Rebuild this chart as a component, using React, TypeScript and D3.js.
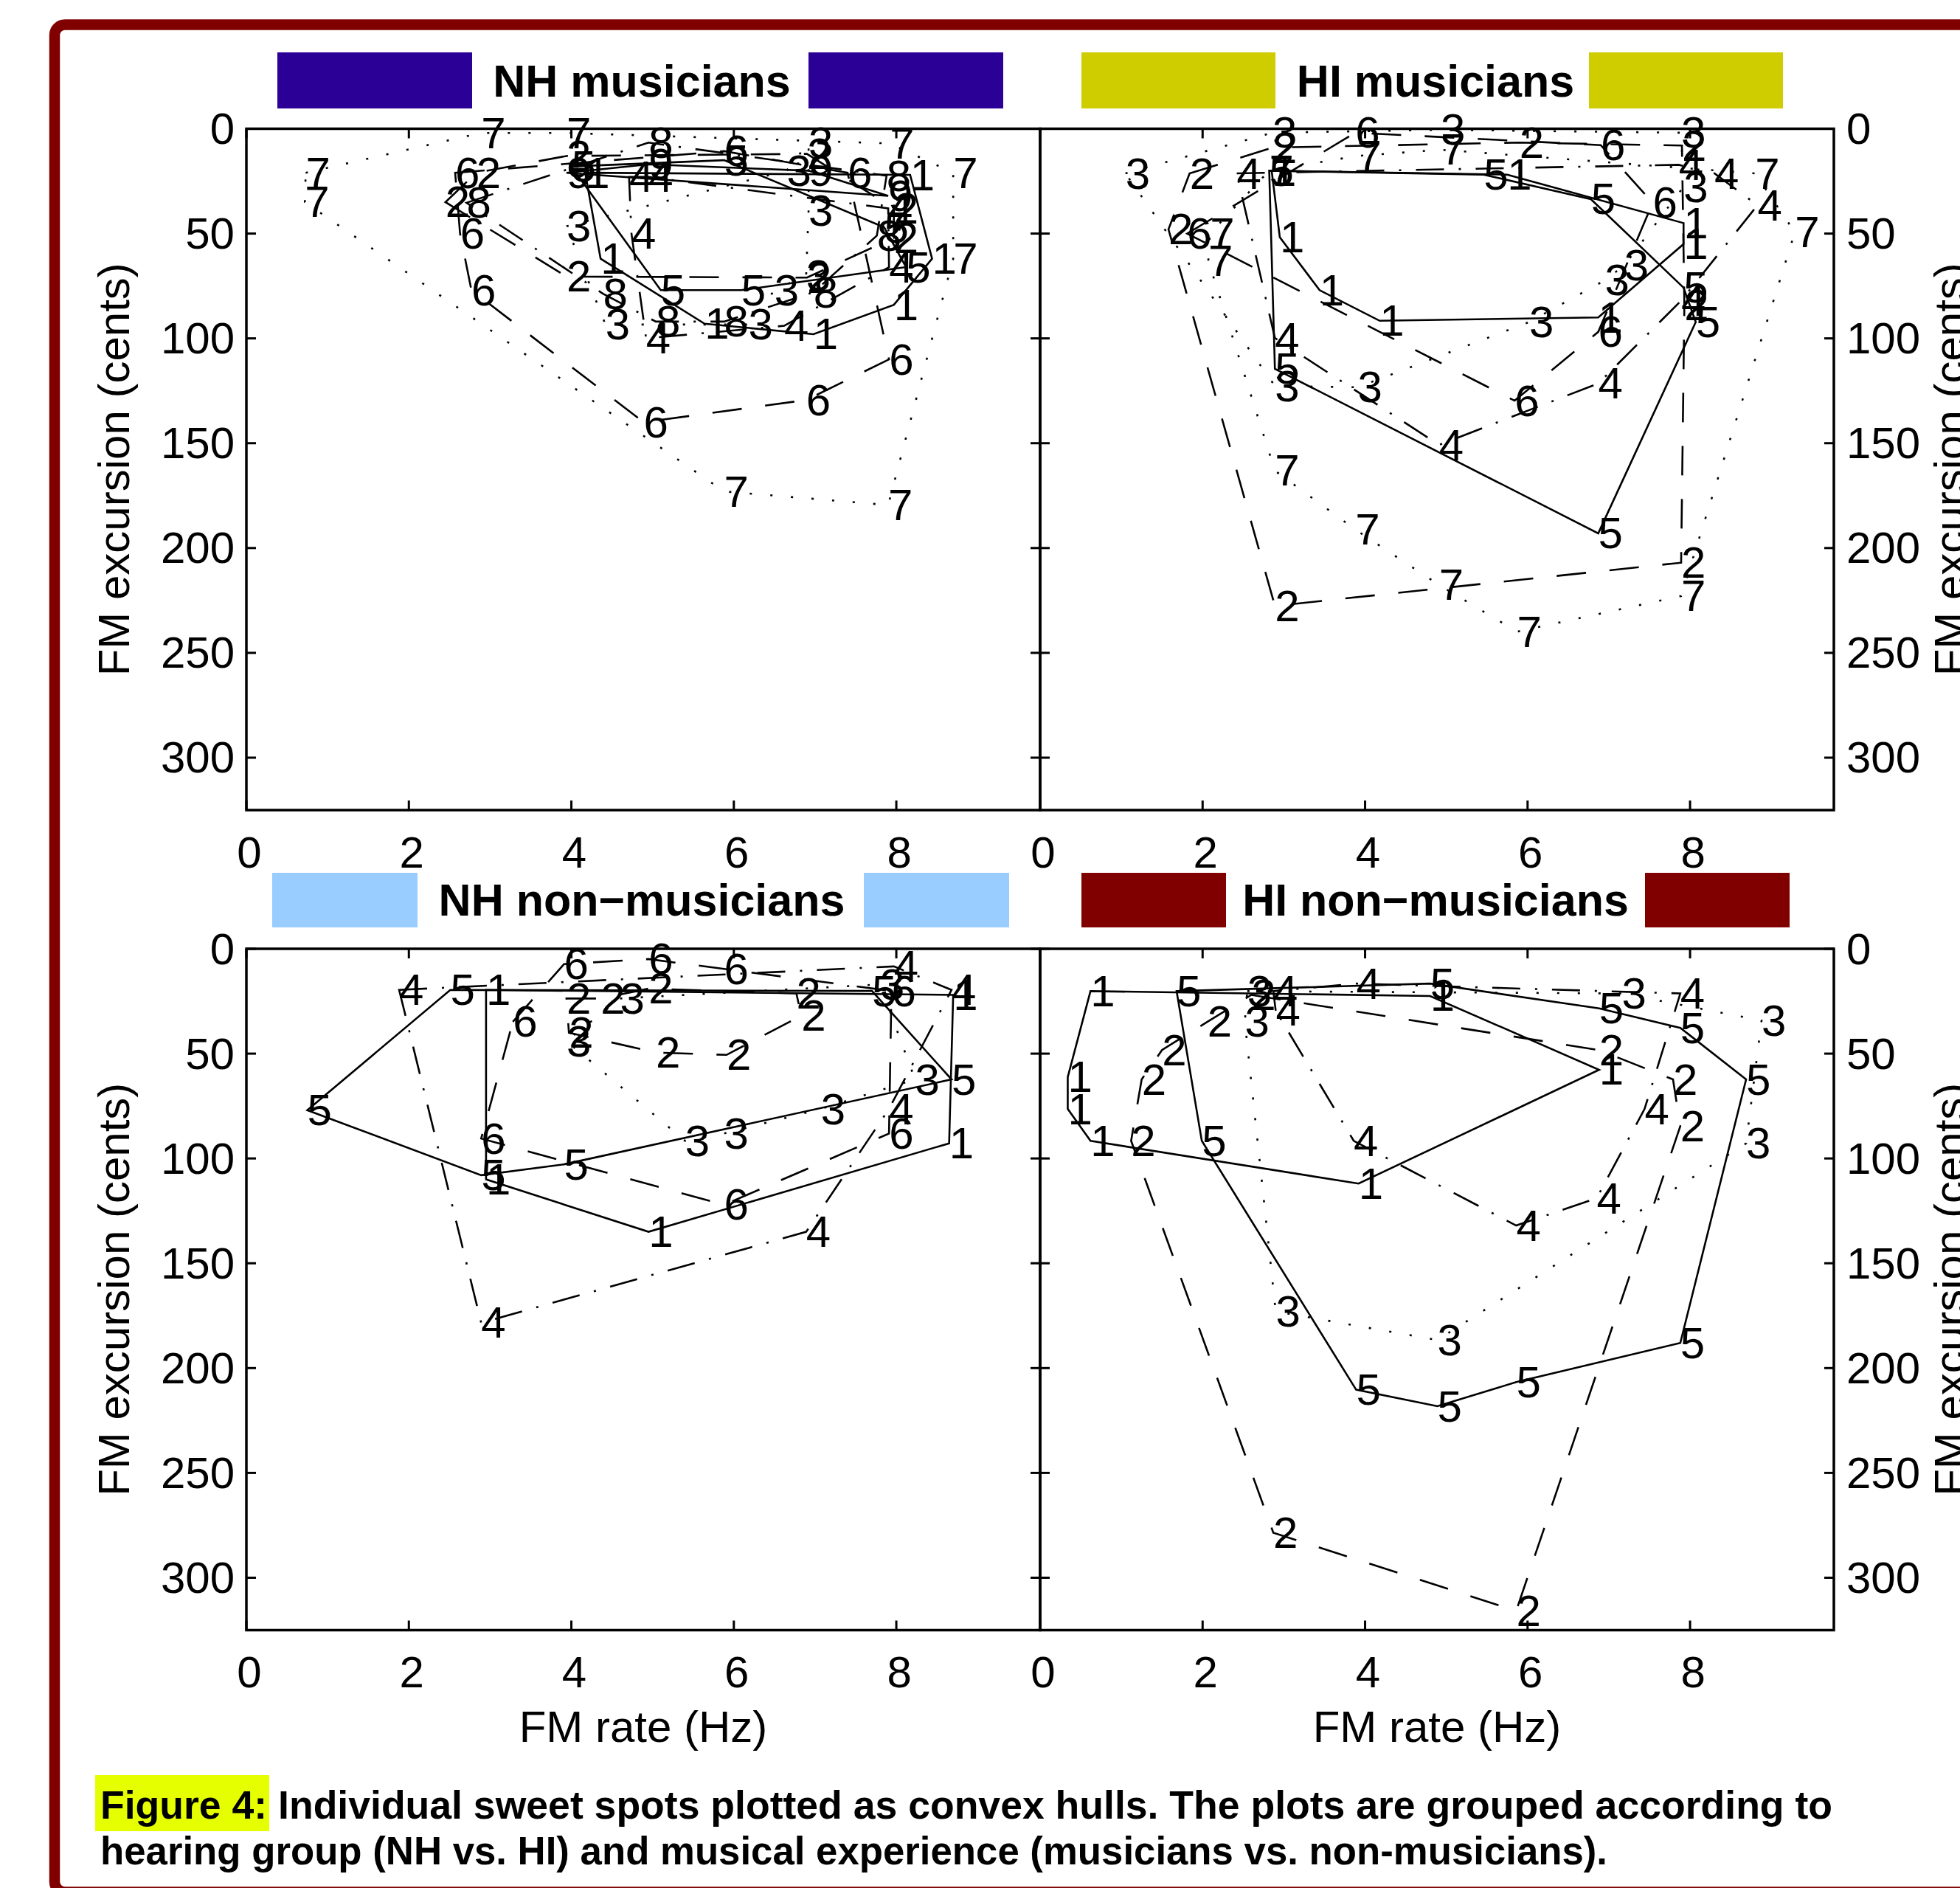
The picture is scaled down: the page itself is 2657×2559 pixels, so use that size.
import React from 'react';
import * as d3 from 'd3';

const W = 2657;
const H = 2559;
const FONT = '"Liberation Sans", Arial, Helvetica, sans-serif';

const rateTicks = [0, 2, 4, 6, 8];
const centTicks = [0, 50, 100, 150, 200, 250, 300];
const rateMax = 9.77;
const centMax = 325;

type Pt = [number, number];
type Hull = [number, Pt[]];

// [subject, [[FM rate Hz, FM excursion cents], ...]] in hull order
const nhMusicians: Hull[] = [
  [1, [[4.17, 21], [8.17, 22], [8.44, 62], [7.97, 84], [6.98, 98], [5.64, 93], [4.36, 62]]],
  [2, [[2.45, 35], [2.83, 21], [3.94, 13], [6.9, 12], [7.97, 38], [7.97, 52], [6.9, 71], [3.94, 70.5]]],
  [3, [[3.94, 46.5], [6.65, 20], [6.92, 6.6], [6.92, 39], [6.89, 70], [6.5, 77], [6.18, 93.4], [4.42, 93.4]]],
  [4, [[4.71, 23], [4.95, 23], [7.9, 38], [7.91, 66], [6.62, 94], [4.92, 100], [4.74, 50]]],
  [5, [[4.0, 18], [5.88, 15], [7.85, 47], [8.12, 66], [6.09, 77], [5.1, 77]]],
  [6, [[2.57, 21], [5.88, 10.7], [7.4, 21], [7.91, 110], [6.89, 129.4], [4.89, 140], [2.77, 77], [2.63, 50]]],
  [7, [[0.73, 21], [2.89, 2], [3.94, 2], [7.92, 7], [8.7, 21], [8.7, 62], [7.9, 179.5], [5.88, 173], [0.72, 35]]],
  [8, [[2.71, 35.3], [4.95, 6.6], [7.88, 22.4], [7.76, 51], [6.98, 78], [5.88, 92], [5.04, 92], [4.39, 78.7]]],
  [9, [[3.94, 21], [4.95, 17], [6.92, 20], [7.9, 32]]],
];

const hiMusicians: Hull[] = [
  [1, [[2.85, 20], [5.75, 21.9], [7.92, 45], [7.92, 55], [6.87, 90], [4.18, 91.6], [3.44, 77], [2.95, 51.7]]],
  [2, [[1.84, 21.3], [2.86, 9], [5.9, 6.6], [7.9, 8], [7.93, 84], [7.89, 207], [2.89, 227.6], [1.58, 48]]],
  [3, [[1.05, 21.3], [2.86, 1.9], [4.93, 0.5], [7.89, 1.9], [7.92, 27.7], [7.19, 65.2], [6.95, 72.3], [6.02, 92.2], [3.91, 123.3], [2.89, 122.7]]],
  [4, [[2.42, 21.3], [7.86, 17.2], [8.3, 21.3], [8.83, 36.5], [7.89, 82], [6.87, 121.5], [4.91, 150.8], [2.89, 99.8]]],
  [5, [[2.82, 20], [5.46, 21.9], [6.78, 33.6], [7.92, 75.8], [8.07, 92.2], [6.87, 193], [2.89, 114.5]]],
  [6, [[1.81, 50], [3.88, 1.9], [6.9, 7.8], [7.54, 35.3], [6.87, 96.9], [5.84, 129.7]]],
  [7, [[2.07, 62.9], [2.09, 50], [2.82, 20], [3.9, 13], [4.93, 10], [8.8, 21.3], [9.29, 49.4], [7.89, 222.9], [5.87, 239.9], [4.91, 217.6], [3.88, 191.2], [2.89, 163.1]]],
];

const nhNonMusicians: Hull[] = [
  [1, [[2.95, 19.6], [8.7, 22], [8.65, 92.8], [4.95, 135], [2.95, 110]]],
  [2, [[3.94, 23.7], [4.36, 23.7], [4.95, 19], [6.77, 21.3], [6.83, 31.9], [5.91, 50.6], [5.04, 49.5], [3.97, 40]]],
  [3, [[4.6, 23.7], [7.8, 17], [8.23, 62.3], [7.07, 76.4], [5.88, 88.1], [5.4, 91.6], [3.94, 44]]],
  [4, [[1.88, 19.6], [7.97, 8.4], [8.68, 19.6], [7.91, 76.4], [6.89, 135], [2.89, 178.4]]],
  [5, [[0.75, 77], [2.51, 19.6], [7.7, 20.1], [8.68, 62.3], [3.91, 102.8], [2.89, 108]]],
  [6, [[3.28, 34.8], [3.91, 7.3], [4.95, 4.9], [5.88, 9.6], [7.94, 20.1], [7.91, 88.1], [5.88, 122.1], [2.89, 90.5]]],
];

const hiNonMusicians: Hull[] = [
  [1, [[0.62, 20.2], [4.8, 22.5], [6.88, 57.7], [3.92, 112], [0.62, 91.6], [0.34, 76.4], [0.34, 61.2]]],
  [2, [[2.6, 22], [6.88, 48.3], [7.79, 62.3], [7.88, 84.6], [5.86, 315.8], [2.87, 278.5], [1.12, 91.6], [1.25, 62.3], [1.5, 48.3], [2.06, 34.8]]],
  [3, [[2.55, 20.2], [7.16, 21.3], [8.88, 34.2], [8.69, 92.8], [4.89, 186.6], [2.9, 173], [2.52, 34.8]]],
  [4, [[2.9, 29.5], [2.87, 20.2], [3.89, 16.6], [7.88, 21.3], [7.44, 76.4], [6.85, 119], [5.86, 132], [3.86, 91.6]]],
  [5, [[1.68, 20.2], [4.8, 16.6], [6.88, 28.4], [7.88, 37.7], [8.69, 62.3], [7.88, 188], [5.86, 206.7], [4.89, 218.2], [3.89, 210.3], [1.99, 91.6]]],
];

const groupNames = ['NH musicians', 'HI musicians', 'NH non\u2212musicians', 'HI non\u2212musicians'];
const groupColors = ['#2B0096', '#CFCC00', '#99CCFF', '#800000'];

// matlab line style cycle '-', '--', ':', '-.'
const lineDash = ['none', '40,32', '3,25', '38,20,3,20'];

const PW = 1076;
const PH = 923.5;

const Panel = ({ hulls, x0, y0, title, color, bars, titleY, rightSide, showXLabel }) => {
  const x = d3.scaleLinear().domain([0, rateMax]).range([x0, x0 + PW]);
  const y = d3.scaleLinear().domain([0, centMax]).range([y0, y0 + PH]);
  const path = d3.line<Pt>().x(d => x(d[0])).y(d => y(d[1])).curve(d3.curveLinearClosed);
  const cx = x0 + PW / 2;
  const cy = y0 + PH / 2;

  return (
    <g>
      {/* group title with colour bars */}
      <rect x={bars[0]} y={bars[3]} width={bars[2]} height={bars[4]} fill={color} />
      <rect x={bars[1]} y={bars[3]} width={bars[2]} height={bars[4]} fill={color} />
      <text x={cx - 2} y={titleY} textAnchor="middle" dominantBaseline="central"
        fontSize={61} fontWeight="bold" fontFamily={FONT}>{title}</text>

      {hulls.map(([id, pts]) => (
        <path key={'h' + id} d={path(pts)} fill="none" stroke="#000" strokeWidth={2.6}
          strokeDasharray={lineDash[(id - 1) % 4]} />
      ))}
      {hulls.map(([id, pts]) => pts.map((p, i) => (
        <text key={'t' + id + '-' + i} x={x(p[0])} y={y(p[1])} dominantBaseline="central"
          fontSize={60} fontFamily={FONT}>{id}</text>
      )))}

      <rect x={x0} y={y0} width={PW} height={PH} fill="none" stroke="#000" strokeWidth={3.5} />
      {rateTicks.map(t => (
        <g key={'xt' + t}>
          <line x1={x(t)} x2={x(t)} y1={y0 + PH} y2={y0 + PH - 13} stroke="#000" strokeWidth={3} />
          <line x1={x(t)} x2={x(t)} y1={y0} y2={y0 + 13} stroke="#000" strokeWidth={3} />
          <text x={x(t) + 4} y={y0 + PH + 57} textAnchor="middle" dominantBaseline="central"
            fontSize={60} fontFamily={FONT}>{t}</text>
        </g>
      ))}
      {centTicks.map(t => (
        <g key={'yt' + t}>
          <line x1={x0} x2={x0 + 13} y1={y(t)} y2={y(t)} stroke="#000" strokeWidth={3} />
          <line x1={x0 + PW} x2={x0 + PW - 13} y1={y(t)} y2={y(t)} stroke="#000" strokeWidth={3} />
          <text x={rightSide ? x0 + PW + 17 : x0 - 16} y={y(t)}
            textAnchor={rightSide ? 'start' : 'end'} dominantBaseline="central"
            fontSize={60} fontFamily={FONT}>{t}</text>
        </g>
      ))}
      <text transform={`translate(${rightSide ? 2664 : 175},${cy}) rotate(-90)`} textAnchor="middle"
        fontSize={60} fontFamily={FONT}>FM excursion (cents)</text>
      {showXLabel && (
        <text x={cx} y={2340} textAnchor="middle" dominantBaseline="central"
          fontSize={60} fontFamily={FONT}>FM rate (Hz)</text>
      )}
    </g>
  );
};

const App = () => {
  const data = [nhMusicians, hiMusicians, nhNonMusicians, hiNonMusicians];
  const pos = [[334, 174.5], [1410, 174.5], [334, 1286], [1410, 1286]];
  const bars = [
    [376, 1096, 264, 71, 76],
    [1466, 2154, 263, 71, 76],
    [369, 1171, 197, 1183, 74],
    [1466, 2230, 196, 1183, 74],
  ];
  const titleYs = [110, 110, 1220, 1220];

  return (
    <svg width={W} height={H} style={{ position: 'absolute', left: 0, top: 0, background: '#fff' }}>
      <rect x={0} y={0} width={W} height={H} fill="#fff" />
      {/* poster frame */}
      <rect x={74} y={33.5} width={2700} height={2531} rx={14} fill="none" stroke="#800000" strokeWidth={14.5} />

      {data.map((hulls, i) => (
        <Panel key={i} hulls={hulls} x0={pos[i][0]} y0={pos[i][1]} title={groupNames[i]}
          color={groupColors[i]} bars={bars[i]} titleY={titleYs[i]}
          rightSide={i % 2 === 1} showXLabel={i >= 2} />
      ))}

      {/* caption */}
      <rect x={129} y={2406} width={236} height={76} fill="#E6FF00" />
      <text x={136} y={2465} fontSize={53} fontWeight="bold" fontFamily={FONT}
        textLength={2348} lengthAdjust="spacingAndGlyphs">
        Figure 4: Individual sweet spots plotted as convex hulls. The plots are grouped according to
      </text>
      <text x={136} y={2527} fontSize={53} fontWeight="bold" fontFamily={FONT}
        textLength={2043} lengthAdjust="spacingAndGlyphs">
        hearing group (NH vs. HI) and musical experience (musicians vs. non-musicians).
      </text>
    </svg>
  );
};

export default App;
